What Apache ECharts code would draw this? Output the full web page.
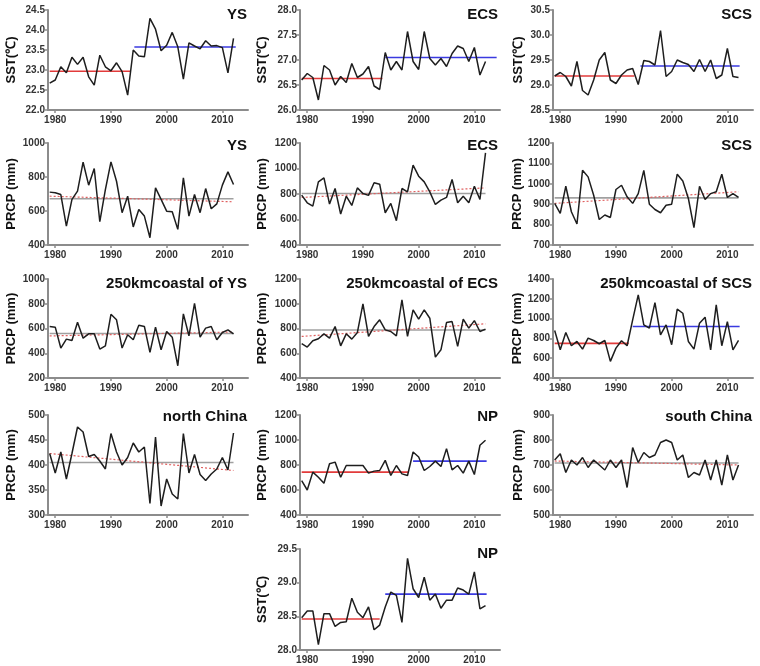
<!DOCTYPE html>
<html><head><meta charset="utf-8">
<script src="https://cdn.jsdelivr.net/npm/echarts@6/dist/echarts.min.js"></script>
<style>html,body{margin:0;padding:0;background:#fff}#c{width:760px;height:666px}</style>
</head><body><div id="c"></div><script>
// ---------- DATA ----------
const years = [1979,1980,1981,1982,1983,1984,1985,1986,1987,1988,1989,1990,1991,1992,1993,1994,1995,1996,1997,1998,1999,2000,2001,2002,2003,2004,2005,2006,2007,2008,2009,2010,2011,2012];
const tickYears = [1980,1990,2000,2010];

const ysSst  = [22.67,22.75,23.08,22.93,23.32,23.14,23.32,22.83,22.62,23.37,23.08,22.98,23.18,22.96,22.37,23.50,23.35,23.33,24.29,24.02,23.48,23.62,23.94,23.58,22.77,23.68,23.60,23.53,23.73,23.60,23.61,23.56,22.93,23.79];
const ecsSst = [26.60,26.73,26.65,26.20,26.89,26.80,26.50,26.67,26.55,26.93,26.65,26.72,26.87,26.48,26.41,27.15,26.80,26.97,26.80,27.57,26.97,26.81,27.57,27.03,26.90,27.03,26.87,27.13,27.28,27.23,26.97,27.25,26.70,26.97];
const scsSst = [29.18,29.25,29.17,28.98,29.47,28.89,28.80,29.10,29.50,29.65,29.10,29.03,29.20,29.30,29.33,29.01,29.49,29.47,29.40,30.09,29.17,29.27,29.50,29.45,29.41,29.27,29.51,29.27,29.50,29.13,29.20,29.73,29.17,29.15];
const ysPrcp  = [711,707,697,511,668,717,887,752,850,537,726,889,775,590,687,506,609,570,443,736,668,599,595,492,795,570,697,590,732,613,642,752,830,756];
const ecsPrcp = [791,731,705,895,927,721,843,643,783,710,848,804,789,888,877,653,726,591,843,817,1026,940,895,817,718,752,773,914,731,783,731,861,757,1122];
const scsPrcp = [904,855,988,863,803,1066,1034,944,825,847,835,972,993,936,904,952,1066,900,874,858,895,900,1047,1014,928,785,988,923,952,961,1047,933,952,933];
const ysCoast  = [616,611,442,514,503,651,522,557,557,434,460,715,670,442,549,509,627,616,407,611,428,576,530,299,718,541,804,530,603,616,509,568,589,557];
const ecsCoast = [677,650,701,717,757,722,816,660,757,714,768,999,736,816,870,789,776,741,1031,736,950,875,950,883,569,628,848,856,655,875,803,864,776,795];
const scsCoast = [880,685,860,726,769,692,803,779,746,779,568,702,776,726,987,1239,937,903,1162,836,937,736,1095,1054,769,692,954,1014,685,1138,726,970,685,779];
const northChina = [423,384,426,372,423,476,466,417,421,408,392,463,426,400,415,444,426,436,323,456,318,372,342,332,463,384,421,381,369,382,392,415,390,464];
const npPrcp = [675,600,743,702,654,810,823,702,796,796,796,796,735,751,756,837,716,796,729,716,904,864,756,788,831,788,931,761,796,735,831,724,958,998];
const southChina = [720,745,670,720,700,730,690,720,700,680,720,690,720,610,770,710,750,730,740,790,800,790,720,740,650,670,660,720,640,720,620,740,640,700];
const npSst = [28.48,28.58,28.58,28.08,28.54,28.54,28.35,28.41,28.42,28.77,28.56,28.48,28.64,28.30,28.37,28.64,28.86,28.81,28.41,29.36,28.91,28.78,29.08,28.74,28.83,28.62,28.74,28.74,28.92,28.89,28.83,29.16,28.61,28.66];

// step means: [startYear, endYear, value]
const ysSstRed = [1979, 1993.5, 22.97],  ysSstBlue = [1994.2, 2012.4, 23.575];
const ecsSstRed = [1979, 1993.5, 26.63], ecsSstBlue = [1994, 2014, 27.05];
const scsSstRed = [1979, 1993.3, 29.18], scsSstBlue = [1994.4, 2012.2, 29.38];
const scsCoastRed = [1979, 1992.3, 750], scsCoastBlue = [1993, 2012.2, 920];
const npPrcpRed = [1979, 1998.2, 743],   npPrcpBlue = [1999, 2012.2, 831];
const npSstRed = [1979, 1993, 28.46],    npSstBlue = [1994, 2012.2, 28.83];
// overall mean [start, end, value] and linear trend [start, end, v0, v1]
const ysPrcpMean = [1979, 2012, 672],  ysPrcpTrend = [1979, 2012, 687, 654];
const ecsPrcpMean = [1979, 2012, 804], ecsPrcpTrend = [1979, 2012, 773, 848];
const scsPrcpMean = [1979, 2012, 931], scsPrcpTrend = [1979, 2012, 904, 961];
const ysCoastMean = [1979, 2012, 560], ysCoastTrend = [1979, 2012, 540, 572];
const ecsCoastMean = [1979, 2012, 788], ecsCoastTrend = [1979, 2012, 736, 838];
const northChinaMean = [1979, 2012, 405], northChinaTrend = [1979, 2012, 423, 389];
const southChinaMean = [1979, 2012, 708], southChinaTrend = [1979, 2012, 716, 700];

// ---------- LAYOUT ----------
const F = '"Liberation Sans", Arial, sans-serif';
const colLeft = [48, 300, 553];
const nameGaps = [30, 31, 28];
const rows = [{top:10,h:100},{top:143,h:102},{top:279,h:99},{top:415,h:100},{top:549,h:101}];
const titleTop = [7, 138, 276, 409, 546];
const titleRight = [513, 262, 8];

const panels = [
 {r:0,c:0,title:'YS',name:'SST(℃)',min:22,max:24.5,iv:0.5,dec:1,data:ysSst,red:ysSstRed,blue:ysSstBlue},
 {r:0,c:1,title:'ECS',name:'SST(℃)',min:26,max:28,iv:0.5,dec:1,data:ecsSst,red:ecsSstRed,blue:ecsSstBlue},
 {r:0,c:2,title:'SCS',name:'SST(℃)',min:28.5,max:30.5,iv:0.5,dec:1,data:scsSst,red:scsSstRed,blue:scsSstBlue},
 {r:1,c:0,title:'YS',name:'PRCP (mm)',min:400,max:1000,iv:200,dec:0,data:ysPrcp,mean:ysPrcpMean,trend:ysPrcpTrend},
 {r:1,c:1,title:'ECS',name:'PRCP (mm)',min:400,max:1200,iv:200,dec:0,data:ecsPrcp,mean:ecsPrcpMean,trend:ecsPrcpTrend},
 {r:1,c:2,title:'SCS',name:'PRCP (mm)',min:700,max:1200,iv:100,dec:0,data:scsPrcp,mean:scsPrcpMean,trend:scsPrcpTrend},
 {r:2,c:0,title:'250kmcoastal of YS',name:'PRCP (mm)',min:200,max:1000,iv:200,dec:0,data:ysCoast,mean:ysCoastMean,trend:ysCoastTrend},
 {r:2,c:1,title:'250kmcoastal of ECS',name:'PRCP (mm)',min:400,max:1200,iv:200,dec:0,data:ecsCoast,mean:ecsCoastMean,trend:ecsCoastTrend},
 {r:2,c:2,title:'250kmcoastal of SCS',name:'PRCP (mm)',min:400,max:1400,iv:200,dec:0,data:scsCoast,red:scsCoastRed,blue:scsCoastBlue},
 {r:3,c:0,title:'north China',name:'PRCP (mm)',min:300,max:500,iv:50,dec:0,data:northChina,mean:northChinaMean,trend:northChinaTrend},
 {r:3,c:1,title:'NP',name:'PRCP (mm)',min:400,max:1200,iv:200,dec:0,data:npPrcp,red:npPrcpRed,blue:npPrcpBlue},
 {r:3,c:2,title:'south China',name:'PRCP (mm)',min:500,max:900,iv:100,dec:0,data:southChina,mean:southChinaMean,trend:southChinaTrend},
 {r:4,c:1,title:'NP',name:'SST(℃)',min:28,max:29.5,iv:0.5,dec:1,data:npSst,red:npSstRed,blue:npSstBlue}
];

const grid=[], xAxis=[], yAxis=[], series=[], title=[];
const axisCol = '#8c8c8c';
panels.forEach((p,i)=>{
  grid.push({left:colLeft[p.c], top:rows[p.r].top, width:200, height:rows[p.r].h, containLabel:false});
  xAxis.push({type:'value', gridIndex:i, min:1978.7, max:2014.6,
    axisLine:{show:true,onZero:false,lineStyle:{color:axisCol,width:2}},
    axisTick:{show:true,customValues:tickYears,length:3,lineStyle:{color:axisCol,width:1.5}},
    minorTick:{show:false},
    axisLabel:{customValues:tickYears,fontFamily:F,fontWeight:'bold',fontSize:10,color:'#333',margin:5,
      formatter:v=>String(Math.round(v))},
    splitLine:{show:false}});
  yAxis.push({type:'value', gridIndex:i, min:p.min, max:p.max, interval:p.iv,
    name:p.name, nameLocation:'middle', nameGap:nameGaps[p.c], nameRotate:90,
    nameTextStyle:{fontFamily:F,fontWeight:'bold',fontSize:13,color:'#111'},
    axisLine:{show:true,lineStyle:{color:axisCol,width:2}},
    axisTick:{show:true,length:3,lineStyle:{color:axisCol,width:1.5}},
    axisLabel:{fontFamily:F,fontWeight:'bold',fontSize:10,color:'#333',margin:3,
      formatter:v=>v.toFixed(p.dec)},
    splitLine:{show:false}});
  title.push({text:p.title, right:titleRight[p.c], top:titleTop[p.r], padding:0,
    textStyle:{fontFamily:F,fontWeight:'bold',fontSize:15,color:'#111'}});
  const common = {xAxisIndex:i,yAxisIndex:i,type:'line',showSymbol:false,symbol:'none',silent:true,animation:false};
  if(p.mean){
    series.push(Object.assign({},common,{data:[[p.mean[0],p.mean[2]],[p.mean[1],p.mean[2]]],
      lineStyle:{color:'#a0a0a0',width:1.6},z:1}));
  }
  if(p.trend){
    series.push(Object.assign({},common,{data:[[p.trend[0],p.trend[2]],[p.trend[1],p.trend[3]]],
      lineStyle:{color:'#e06060',width:1.2,type:[2,2]},z:2}));
  }
  if(p.red){
    series.push(Object.assign({},common,{data:[[p.red[0],p.red[2]],[p.red[1],p.red[2]]],
      lineStyle:{color:'#e23b3b',width:1.6},z:2}));
  }
  if(p.blue){
    series.push(Object.assign({},common,{data:[[p.blue[0],p.blue[2]],[p.blue[1],p.blue[2]]],
      lineStyle:{color:'#3a3ae0',width:1.6},z:2}));
  }
  series.push(Object.assign({},common,{data:years.map((y,k)=>[y,p.data[k]]),
    lineStyle:{color:'#1e1e1e',width:1.5},z:3}));
});

const chart = echarts.init(document.getElementById('c'), null, {renderer:'canvas'});
chart.setOption({animation:false, backgroundColor:'#fff', grid, xAxis, yAxis, series, title});
</script></body></html>
